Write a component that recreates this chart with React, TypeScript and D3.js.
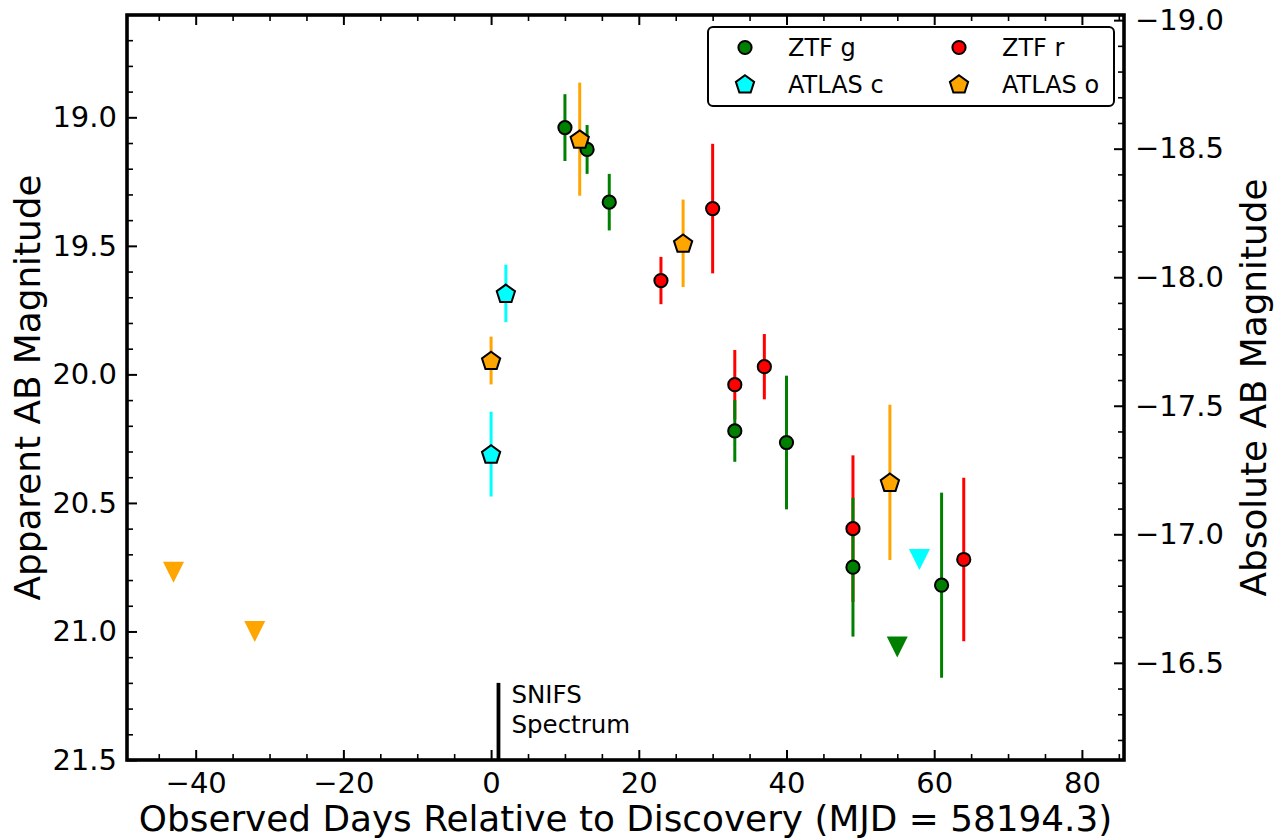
import { useEffect, useRef } from "react"
import * as d3 from "d3"

interface Obs {
  day: number
  mag: number
  err: number
}

interface Limit {
  day: number
  mag: number
}

// Detections (days since discovery, apparent AB mag, 1-sigma error)
const ztfG: Obs[] = [
  { day: 10, mag: 19.04, err: 0.13 },
  { day: 13, mag: 19.125, err: 0.095 },
  { day: 16, mag: 19.33, err: 0.11 },
  { day: 33, mag: 20.22, err: 0.12 },
  { day: 40, mag: 20.265, err: 0.26 },
  { day: 49, mag: 20.75, err: 0.27 },
  { day: 61, mag: 20.82, err: 0.36 },
]

const ztfR: Obs[] = [
  { day: 23, mag: 19.635, err: 0.092 },
  { day: 30, mag: 19.355, err: 0.252 },
  { day: 33, mag: 20.04, err: 0.135 },
  { day: 37, mag: 19.97, err: 0.127 },
  { day: 49, mag: 20.6, err: 0.285 },
  { day: 64, mag: 20.72, err: 0.318 },
]

const atlasC: Obs[] = [
  { day: 0, mag: 20.31, err: 0.165 },
  { day: 2, mag: 19.685, err: 0.112 },
]

const atlasO: Obs[] = [
  { day: 0, mag: 19.946, err: 0.093 },
  { day: 12, mag: 19.085, err: 0.22 },
  { day: 26, mag: 19.49, err: 0.17 },
  { day: 54, mag: 20.42, err: 0.302 },
]

// Upper limits (non-detections)
const ztfGLimits: Limit[] = [{ day: 55, mag: 21.06 }]
const atlasCLimits: Limit[] = [{ day: 58, mag: 20.72 }]
const atlasOLimits: Limit[] = [
  { day: -43, mag: 20.77 },
  { day: -32, mag: 21.0 },
]

const spectrumDay = 1
const distanceModulus = 37.622

const xTicks = [-40, -20, 0, 20, 40, 60, 80]
const yTicks = [19.0, 19.5, 20.0, 20.5, 21.0, 21.5]
const absTicks = [-19.0, -18.5, -18.0, -17.5, -17.0, -16.5]

const COLORS = { g: "green", r: "red", c: "cyan", o: "orange" }
const FONT = "DejaVu Sans, Verdana, sans-serif"

function pentagon(r: number) {
  const pts = d3.range(5).map((i) => {
    const a = -Math.PI / 2 + (i * 2 * Math.PI) / 5
    return [r * Math.cos(a), r * Math.sin(a)]
  })
  return "M" + pts.map((p) => p.join(",")).join("L") + "Z"
}

function triangleDown(s: number) {
  return `M${-s},${-s}L${s},${-s}L0,${s}Z`
}

export default function App() {
  const svgRef = useRef<SVGSVGElement>(null)

  useEffect(() => {
    if (!svgRef.current) return
    d3.select(svgRef.current).selectAll("*").remove()

    const svg = d3.select(svgRef.current)
    const width = 1284
    const height = 838
    const margin = { top: 15, right: 160, bottom: 78, left: 127 }
    const innerWidth = width - margin.left - margin.right
    const innerHeight = height - margin.top - margin.bottom

    svg.append("rect").attr("width", width).attr("height", height).attr("fill", "#fff")

    const xScale = d3.scaleLinear().domain([-49.3, 85.7]).range([0, innerWidth])
    const yScale = d3.scaleLinear().domain([18.602, 21.5]).range([0, innerHeight])
    const absScale = d3
      .scaleLinear()
      .domain([18.602 - distanceModulus, 21.5 - distanceModulus])
      .range([0, innerHeight])

    const g = svg.append("g").attr("transform", `translate(${margin.left}, ${margin.top})`)

    const xMinor = d3.range(-45, 86, 5).filter((v) => v % 20 !== 0)
    const yMinor = d3.range(187, 215).map((v) => v / 10).filter((v) => Math.round(v * 10) % 5 !== 0)
    const absMinor = d3.range(-190, -161).map((v) => v / 10).filter((v) => Math.round(v * 10) % 5 !== 0)

    const styleAxis = (sel: d3.Selection<SVGGElement, unknown, null, undefined>, major: boolean) => {
      sel.select(".domain").remove()
      sel.selectAll("line").attr("stroke", "#000").attr("stroke-width", major ? 2 : 1.6)
      sel.selectAll("text").attr("font-family", FONT).attr("font-size", 29).attr("fill", "#000")
    }

    // Bottom axis
    g.append("g")
      .attr("transform", `translate(0, ${innerHeight})`)
      .call(d3.axisBottom(xScale).tickValues(xMinor).tickSize(-6).tickFormat(() => ""))
      .call((s) => styleAxis(s, false))
    g.append("g")
      .attr("transform", `translate(0, ${innerHeight})`)
      .call(d3.axisBottom(xScale).tickValues(xTicks).tickSize(-10).tickPadding(12).tickFormat(d3.format("d")))
      .call((s) => styleAxis(s, true))

    // Top axis (ticks only)
    g.append("g")
      .call(d3.axisTop(xScale).tickValues(xMinor).tickSize(-6).tickFormat(() => ""))
      .call((s) => styleAxis(s, false))
    g.append("g")
      .call(d3.axisTop(xScale).tickValues(xTicks).tickSize(-10).tickFormat(() => ""))
      .call((s) => styleAxis(s, true))

    // Left axis (apparent magnitude)
    g.append("g")
      .call(d3.axisLeft(yScale).tickValues(yMinor).tickSize(-6).tickFormat(() => ""))
      .call((s) => styleAxis(s, false))
    g.append("g")
      .call(d3.axisLeft(yScale).tickValues(yTicks).tickSize(-10).tickPadding(10).tickFormat(d3.format(".1f")))
      .call((s) => styleAxis(s, true))

    // Right axis (absolute magnitude)
    g.append("g")
      .attr("transform", `translate(${innerWidth}, 0)`)
      .call(d3.axisRight(absScale).tickValues(absMinor).tickSize(-6).tickFormat(() => ""))
      .call((s) => styleAxis(s, false))
    g.append("g")
      .attr("transform", `translate(${innerWidth}, 0)`)
      .call(d3.axisRight(absScale).tickValues(absTicks).tickSize(-10).tickPadding(11).tickFormat(d3.format(".1f")))
      .call((s) => styleAxis(s, true))

    // Error bars
    const bars = g.append("g")
    const drawBars = (data: Obs[], color: string) => {
      bars
        .selectAll(null)
        .data(data)
        .enter()
        .append("line")
        .attr("x1", (d) => xScale(d.day))
        .attr("x2", (d) => xScale(d.day))
        .attr("y1", (d) => yScale(d.mag - d.err))
        .attr("y2", (d) => yScale(d.mag + d.err))
        .attr("stroke", color)
        .attr("stroke-width", 3)
    }
    drawBars(ztfR, COLORS.r)
    drawBars(ztfG, COLORS.g)
    drawBars(atlasC, COLORS.c)
    drawBars(atlasO, COLORS.o)

    // Upper limits
    const limits = g.append("g")
    const drawLimits = (data: Limit[], color: string) => {
      limits
        .selectAll(null)
        .data(data)
        .enter()
        .append("path")
        .attr("transform", (d) => `translate(${xScale(d.day)}, ${yScale(d.mag)})`)
        .attr("d", triangleDown(10.5))
        .attr("fill", color)
    }
    drawLimits(ztfGLimits, COLORS.g)
    drawLimits(atlasCLimits, COLORS.c)
    drawLimits(atlasOLimits, COLORS.o)

    // Markers
    const marks = g.append("g")
    const drawCircles = (data: Obs[], color: string) => {
      marks
        .selectAll(null)
        .data(data)
        .enter()
        .append("circle")
        .attr("cx", (d) => xScale(d.day))
        .attr("cy", (d) => yScale(d.mag))
        .attr("r", 6.6)
        .attr("fill", color)
        .attr("stroke", "#000")
        .attr("stroke-width", 2)
    }
    const drawPentagons = (data: Obs[], color: string) => {
      marks
        .selectAll(null)
        .data(data)
        .enter()
        .append("path")
        .attr("transform", (d) => `translate(${xScale(d.day)}, ${yScale(d.mag) + 0.8})`)
        .attr("d", pentagon(9.6))
        .attr("fill", color)
        .attr("stroke", "#000")
        .attr("stroke-width", 2)
        .attr("stroke-linejoin", "miter")
    }
    drawCircles(ztfG, COLORS.g)
    drawCircles(ztfR, COLORS.r)
    drawPentagons(atlasC, COLORS.c)
    drawPentagons(atlasO, COLORS.o)

    // Spectrum epoch marker
    g.append("line")
      .attr("x1", xScale(spectrumDay))
      .attr("x2", xScale(spectrumDay))
      .attr("y1", yScale(21.2))
      .attr("y2", yScale(21.5))
      .attr("stroke", "#000")
      .attr("stroke-width", 3.8)
    const spec = g
      .append("text")
      .attr("x", xScale(spectrumDay) + 13)
      .attr("y", yScale(21.2) + 20)
      .attr("font-family", FONT)
      .attr("font-size", 24.5)
      .attr("fill", "#000")
    spec.append("tspan").text("SNIFS")
    spec.append("tspan").attr("x", xScale(spectrumDay) + 13).attr("dy", 30).text("Spectrum")

    // Frame
    g.append("rect")
      .attr("width", innerWidth)
      .attr("height", innerHeight)
      .attr("fill", "none")
      .attr("stroke", "#000")
      .attr("stroke-width", 3.6)

    // Axis labels
    svg
      .append("text")
      .attr("x", margin.left + innerWidth / 2)
      .attr("y", 831)
      .attr("text-anchor", "middle")
      .attr("font-family", FONT)
      .attr("font-size", 35.8)
      .attr("fill", "#000")
      .text("Observed Days Relative to Discovery (MJD = 58194.3)")

    svg
      .append("text")
      .attr("transform", `translate(40, ${margin.top + innerHeight / 2}) rotate(-90)`)
      .attr("text-anchor", "middle")
      .attr("font-family", FONT)
      .attr("font-size", 35.8)
      .attr("fill", "#000")
      .text("Apparent AB Magnitude")

    svg
      .append("text")
      .attr("transform", `translate(1266, ${margin.top + innerHeight / 2}) rotate(-90)`)
      .attr("text-anchor", "middle")
      .attr("font-family", FONT)
      .attr("font-size", 35.8)
      .attr("fill", "#000")
      .text("Absolute AB Magnitude")

    // Legend
    const legendItems = [
      { name: "ZTF g", color: COLORS.g, shape: "circle", col: 0, row: 0 },
      { name: "ZTF r", color: COLORS.r, shape: "circle", col: 1, row: 0 },
      { name: "ATLAS c", color: COLORS.c, shape: "pentagon", col: 0, row: 1 },
      { name: "ATLAS o", color: COLORS.o, shape: "pentagon", col: 1, row: 1 },
    ]
    const legend = svg.append("g").attr("transform", "translate(708, 27)")
    legend
      .append("rect")
      .attr("width", 406)
      .attr("height", 79)
      .attr("rx", 5)
      .attr("fill", "#fff")
      .attr("stroke", "#000")
      .attr("stroke-width", 2)

    legendItems.forEach((item) => {
      const row = legend.append("g").attr("transform", `translate(${37 + item.col * 214}, ${20.5 + item.row * 36.5})`)
      if (item.shape === "circle") {
        row.append("circle").attr("r", 6.6).attr("fill", item.color).attr("stroke", "#000").attr("stroke-width", 2)
      } else {
        row
          .append("path")
          .attr("transform", "translate(0, 0.8)")
          .attr("d", pentagon(9.6))
          .attr("fill", item.color)
          .attr("stroke", "#000")
          .attr("stroke-width", 2)
      }
      row
        .append("text")
        .attr("x", 43)
        .attr("y", 8.7)
        .attr("font-family", FONT)
        .attr("font-size", 24)
        .attr("fill", "#000")
        .text(item.name)
    })
  }, [])

  return (
    <div style={{ position: "absolute", left: 0, top: 0 }}>
      <svg ref={svgRef} width={1284} height={838} style={{ display: "block" }} />
    </div>
  )
}
